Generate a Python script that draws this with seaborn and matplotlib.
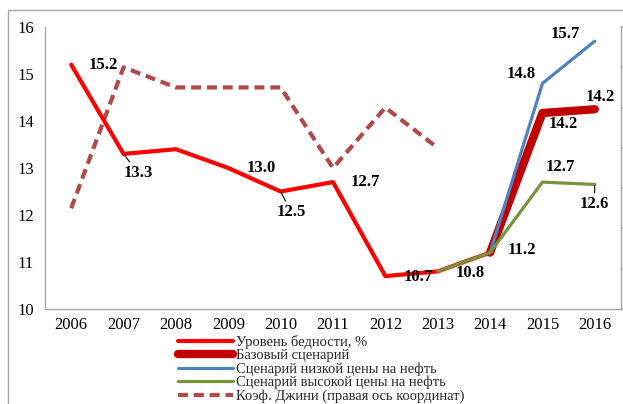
# Poverty level and oil price scenarios
import numpy as np
import pandas as pd
import matplotlib.pyplot as plt
import seaborn as sns
from matplotlib.patches import Rectangle

# data
years = [2006, 2007, 2008, 2009, 2010, 2011, 2012, 2013, 2014, 2015, 2016]
poverty_years = [2006, 2007, 2008, 2009, 2010, 2011, 2012, 2013, 2014]
poverty = [15.2, 13.3, 13.4, 13.0, 12.5, 12.7, 10.7, 10.8, 11.2]
base_years = [2014, 2015, 2016]
base = [11.2, 14.17, 14.25]
low_years = [2014, 2015, 2016]
low_oil = [11.2, 14.8, 15.7]
high_years = [2013, 2014, 2015, 2016]
high_oil = [10.8, 11.2, 12.7, 12.65]
gini_years = [2006, 2007, 2008, 2009, 2010, 2011, 2012, 2013]
gini = [0.410, 0.424, 0.422, 0.422, 0.422, 0.414, 0.420, 0.416]

labels = ["Уровень бедности, %", "Базовый сценарий",
          "Сценарий низкой цены на нефть", "Сценарий высокой цены на нефть",
          "Коэф. Джини (правая ось координат)"]

sns.set_theme(style="white")
plt.rcParams["font.family"] = ["Liberation Serif", "DejaVu Serif"]

fig = plt.figure(figsize=(6.23, 4.04), dpi=100)
ax = fig.add_axes([45 / 623, 1 - 309 / 404, 576 / 623, 282 / 404])
ax2 = ax.twinx()

# outer frame
fig.patches.append(Rectangle((8 / 623, -0.2), 1.2, 0.2 + (404 - 10) / 404,
                             transform=fig.transFigure, fill=False,
                             edgecolor="#a6a6a6", linewidth=1.0))

sns.lineplot(x=gini_years, y=gini, ax=ax2, color="#b04a4a", linewidth=3,
             linestyle=(0, (2.4, 1.4)), label=labels[4], legend=False)

sns.lineplot(x=poverty_years, y=poverty, ax=ax, color="#ff0000", linewidth=3,
             label=labels[0])
sns.lineplot(x=base_years, y=base, ax=ax, color="#c00000", linewidth=6,
             label=labels[1])
sns.lineplot(x=low_years, y=low_oil, ax=ax, color="#4f81bd", linewidth=2.3,
             label=labels[2])
sns.lineplot(x=high_years, y=high_oil, ax=ax, color="#77933c", linewidth=2.3,
             label=labels[3])

ax.set_zorder(ax2.get_zorder() + 1)
ax.patch.set_visible(False)

ax.set_xlim(2005.5, 2016.5)
ax.set_xticks(years)
ax.set_xticklabels([str(y) for y in years])
ax.set_ylim(10, 16)
ax.set_yticks(range(10, 17))
ax2.set_ylim(0.400, 0.428)
ax2.set_yticks(np.arange(0.400, 0.4281, 0.004))
ax2.set_yticklabels([])

ax.tick_params(axis="both", labelsize=12, length=0, colors="black")
ax.tick_params(axis="y", pad=8)
ax.tick_params(axis="x", pad=6)
ax2.tick_params(axis="y", length=3, color="#a6a6a6", direction="out")

for a in (ax, ax2):
    for s in a.spines.values():
        s.set_visible(False)
ax.spines["left"].set_visible(True)
ax.spines["bottom"].set_visible(True)
ax2.spines["right"].set_visible(True)
for s in (ax.spines["left"], ax.spines["bottom"], ax2.spines["right"]):
    s.set_color("#a6a6a6")
    s.set_linewidth(1.0)

# value labels
bold = dict(fontsize=12, fontweight="bold", color="black", ha="center", va="center")
lead = dict(arrowstyle="-", color="black", lw=0.8, shrinkA=0, shrinkB=1)
ax.annotate("15.2", (2006, 15.2), xytext=(2006.62, 15.19), **bold)
ax.annotate("13.3", (2007, 13.3), xytext=(2007.28, 12.89), arrowprops=lead, **bold)
ax.annotate("13.0", (2009, 13.0), xytext=(2009.63, 13.0), **bold)
ax.annotate("12.5", (2010, 12.5), xytext=(2010.2, 12.06), arrowprops=lead, **bold)
ax.annotate("12.7", (2011, 12.7), xytext=(2011.61, 12.7), **bold)
ax.annotate("10.7", (2012, 10.7), xytext=(2012.62, 10.68), **bold)
ax.annotate("10.8", (2013, 10.8), xytext=(2013.62, 10.77), **bold)
ax.annotate("11.2", (2014, 11.2), xytext=(2014.61, 11.26), **bold)
ax.annotate("14.8", (2015, 14.8), xytext=(2014.59, 15.0), **bold)
ax.annotate("15.7", (2016, 15.7), xytext=(2015.43, 15.85), **bold)
ax.annotate("14.2", (2016, 14.25), xytext=(2016.1, 14.51), **bold)
ax.annotate("14.2", (2015, 14.17), xytext=(2015.39, 13.94), **bold)
ax.annotate("12.7", (2015, 12.7), xytext=(2015.35, 13.02), **bold)
ax.annotate("12.6", (2016, 12.65), xytext=(2015.99, 12.23), arrowprops=lead, **bold)

# legend below the plot
handles, _ = ax.get_legend_handles_labels()
handles += ax2.get_lines()
leg = ax.legend(handles, labels, loc="upper left", bbox_to_anchor=(0.231, -0.093),
                frameon=False, fontsize=10.5, handlelength=3.8, handletextpad=0.2,
                labelspacing=0.0, borderpad=0, borderaxespad=0)

fig.savefig("out.png", dpi=100)
